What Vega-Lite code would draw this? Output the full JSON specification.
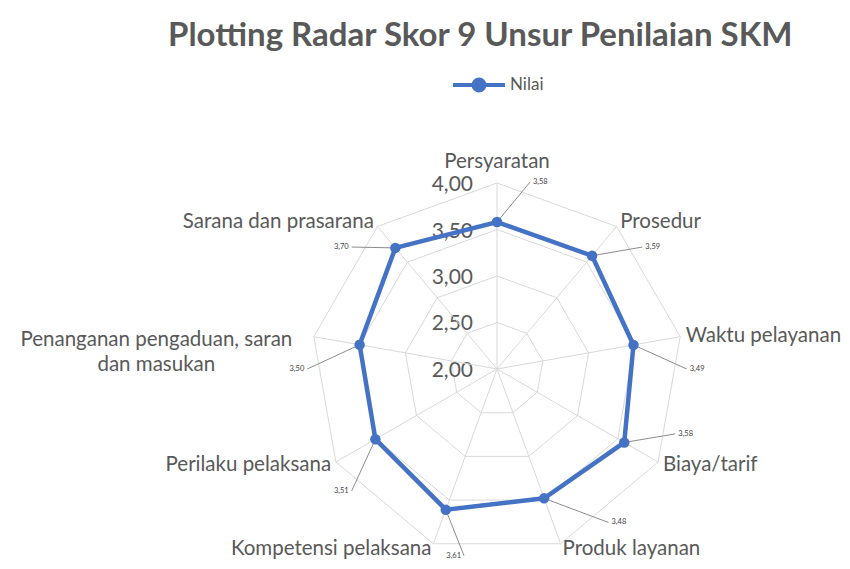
{
  "$schema": "https://vega.github.io/schema/vega-lite/v6.json",
  "width": 850,
  "height": 569,
  "autosize": {"type": "none"},
  "padding": 0,
  "background": "white",
  "config": {
    "view": {"stroke": null},
    "font": "Lato",
    "locale": {"number": {"decimal": ",", "thousands": ".", "grouping": [3], "currency": ["", ""]}}
  },
  "title": {
    "text": "Plotting Radar Skor 9 Unsur Penilaian SKM",
    "font": "Lato",
    "fontSize": 33,
    "fontWeight": "bold",
    "color": "#595959",
    "anchor": "start",
    "frame": "group",
    "offset": 0,
    "baseline": "middle",
    "dx": 168,
    "dy": 69
  },
  "datasets": {
    "skor": [
      {"unsur": "Persyaratan", "k": 0, "nilai": 3.58, "seri": "Nilai"},
      {"unsur": "Prosedur", "k": 1, "nilai": 3.59, "seri": "Nilai"},
      {"unsur": "Waktu pelayanan", "k": 2, "nilai": 3.49, "seri": "Nilai"},
      {"unsur": "Biaya/tarif", "k": 3, "nilai": 3.58, "seri": "Nilai"},
      {"unsur": "Produk layanan", "k": 4, "nilai": 3.48, "seri": "Nilai"},
      {"unsur": "Kompetensi pelaksana", "k": 5, "nilai": 3.61, "seri": "Nilai"},
      {"unsur": "Perilaku pelaksana", "k": 6, "nilai": 3.51, "seri": "Nilai"},
      {"unsur": "Penanganan pengaduan, saran dan masukan", "k": 7, "nilai": 3.50, "seri": "Nilai"},
      {"unsur": "Sarana dan prasarana", "k": 8, "nilai": 3.70, "seri": "Nilai"}
    ],
    "cincin": [
      {"level": 2.5, "k": 0}, {"level": 2.5, "k": 1}, {"level": 2.5, "k": 2}, {"level": 2.5, "k": 3}, {"level": 2.5, "k": 4}, {"level": 2.5, "k": 5}, {"level": 2.5, "k": 6}, {"level": 2.5, "k": 7}, {"level": 2.5, "k": 8},
      {"level": 3.0, "k": 0}, {"level": 3.0, "k": 1}, {"level": 3.0, "k": 2}, {"level": 3.0, "k": 3}, {"level": 3.0, "k": 4}, {"level": 3.0, "k": 5}, {"level": 3.0, "k": 6}, {"level": 3.0, "k": 7}, {"level": 3.0, "k": 8},
      {"level": 3.5, "k": 0}, {"level": 3.5, "k": 1}, {"level": 3.5, "k": 2}, {"level": 3.5, "k": 3}, {"level": 3.5, "k": 4}, {"level": 3.5, "k": 5}, {"level": 3.5, "k": 6}, {"level": 3.5, "k": 7}, {"level": 3.5, "k": 8},
      {"level": 4.0, "k": 0}, {"level": 4.0, "k": 1}, {"level": 4.0, "k": 2}, {"level": 4.0, "k": 3}, {"level": 4.0, "k": 4}, {"level": 4.0, "k": 5}, {"level": 4.0, "k": 6}, {"level": 4.0, "k": 7}, {"level": 4.0, "k": 8}
    ],
    "sumbu": [
      {"level": 2.0}, {"level": 2.5}, {"level": 3.0}, {"level": 3.5}, {"level": 4.0}
    ]
  },
  "layer": [
    {
      "data": {"name": "cincin"},
      "transform": [
        {"calculate": "datum.k*2*PI/9", "as": "ang"},
        {"calculate": "(datum.level-2)/2*sin(datum.ang)", "as": "gx"},
        {"calculate": "(datum.level-2)/2*cos(datum.ang)", "as": "gy"}
      ],
      "mark": {"type": "line", "interpolate": "linear-closed", "stroke": "#D9D9D9", "strokeWidth": 1},
      "encoding": {
        "x": {"field": "gx", "type": "quantitative", "scale": {"domain": [-2.672, 1.8978], "nice": false, "zero": false}, "axis": null},
        "y": {"field": "gy", "type": "quantitative", "scale": {"domain": [-1.0753, 1.9839], "nice": false, "zero": false}, "axis": null},
        "detail": {"field": "level", "type": "nominal"},
        "order": {"field": "k", "type": "quantitative"}
      }
    },
    {
      "data": {"name": "sumbu"},
      "transform": [
        {"calculate": "(datum.level-2)/2", "as": "ry"},
        {"calculate": "0", "as": "o"}
      ],
      "mark": {"type": "text", "align": "right", "baseline": "middle", "dx": -24, "dy": 2, "fontSize": 21, "fill": "#595959", "font": "Lato"},
      "encoding": {
        "x": {"field": "o", "type": "quantitative"},
        "y": {"field": "ry", "type": "quantitative"},
        "text": {"field": "level", "type": "quantitative", "format": ".2f"}
      }
    },
    {
      "data": {"name": "skor"},
      "transform": [
        {"calculate": "datum.k*2*PI/9", "as": "ang"},
        {"calculate": "0", "as": "o"},
        {"calculate": "(datum.nilai-2)/2", "as": "r"},
        {"calculate": "datum.r*sin(datum.ang)", "as": "px"},
        {"calculate": "datum.r*cos(datum.ang)", "as": "py"},
        {"calculate": "sin(datum.ang)", "as": "vx"},
        {"calculate": "cos(datum.ang)", "as": "vy"},
        {"calculate": "1.03*sin(datum.ang)", "as": "lx"},
        {"calculate": "1.03*cos(datum.ang)", "as": "ly"},
        {"calculate": "datum.ang + (datum.k <= 2 ? 10 : (datum.k == 4 ? -16 : -10))*PI/180", "as": "dla"},
        {"calculate": "1.02*sin(datum.dla)", "as": "dlx"},
        {"calculate": "1.02*cos(datum.dla)", "as": "dly"},
        {"calculate": "replace(datum.unsur, 'saran dan', 'saran\\ndan')", "as": "lbl"}
      ],
      "layer": [
        {
          "mark": {"type": "rule", "stroke": "#D9D9D9", "strokeWidth": 1},
          "encoding": {
            "x": {"field": "o", "type": "quantitative"},
            "y": {"field": "o", "type": "quantitative"},
            "x2": {"field": "vx"},
            "y2": {"field": "vy"}
          }
        },
        {
          "mark": {"type": "rule", "stroke": "#8C8C8C", "strokeWidth": 1},
          "encoding": {
            "x": {"field": "px", "type": "quantitative"},
            "y": {"field": "py", "type": "quantitative"},
            "x2": {"field": "dlx"},
            "y2": {"field": "dly"}
          }
        },
        {
          "mark": {"type": "line", "interpolate": "linear-closed", "strokeWidth": 4.5},
          "encoding": {
            "x": {"field": "px", "type": "quantitative"},
            "y": {"field": "py", "type": "quantitative"},
            "order": {"field": "k", "type": "quantitative"},
            "color": {
              "field": "seri",
              "type": "nominal",
              "scale": {"range": ["#4472C4"]},
              "legend": {
                "orient": "none",
                "legendX": 451,
                "legendY": 57,
                "title": null,
                "symbolType": "M-1,0L1,0M0.21,0A0.21,0.21,0,1,1,-0.21,0A0.21,0.21,0,1,1,0.21,0Z",
                "symbolSize": 2704,
                "symbolStrokeWidth": 4,
                "symbolFillColor": "#4472C4",
                "symbolStrokeColor": "#4472C4",
                "labelFont": "Lato",
                "labelFontSize": 17,
                "labelColor": "#595959",
                "labelOffset": 3,
                "padding": 0
              }
            }
          }
        },
        {
          "mark": {"type": "point", "shape": "circle", "filled": true, "size": 110, "color": "#4472C4", "opacity": 1},
          "encoding": {
            "x": {"field": "px", "type": "quantitative"},
            "y": {"field": "py", "type": "quantitative"}
          }
        },
        {
          "transform": [{"filter": "datum.k <= 4"}],
          "mark": {"type": "text", "align": "left", "baseline": "middle", "dx": 3, "fontSize": 7.5, "fill": "#404040", "font": "Lato"},
          "encoding": {
            "x": {"field": "dlx", "type": "quantitative"},
            "y": {"field": "dly", "type": "quantitative"},
            "text": {"field": "nilai", "type": "quantitative", "format": ".2f"}
          }
        },
        {
          "transform": [{"filter": "datum.k > 4"}],
          "mark": {"type": "text", "align": "right", "baseline": "middle", "dx": -3, "fontSize": 7.5, "fill": "#404040", "font": "Lato"},
          "encoding": {
            "x": {"field": "dlx", "type": "quantitative"},
            "y": {"field": "dly", "type": "quantitative"},
            "text": {"field": "nilai", "type": "quantitative", "format": ".2f"}
          }
        },
        {
          "transform": [{"filter": "datum.k == 0"}],
          "mark": {"type": "text", "align": "center", "baseline": "middle", "dy": -15, "fontSize": 20.5, "fill": "#595959", "font": "Lato"},
          "encoding": {
            "x": {"field": "lx", "type": "quantitative"},
            "y": {"field": "ly", "type": "quantitative"},
            "text": {"field": "lbl"}
          }
        },
        {
          "transform": [{"filter": "datum.k >= 1 && datum.k <= 4"}],
          "mark": {"type": "text", "align": "left", "baseline": "middle", "fontSize": 20.5, "fill": "#595959", "font": "Lato"},
          "encoding": {
            "x": {"field": "lx", "type": "quantitative"},
            "y": {"field": "ly", "type": "quantitative"},
            "text": {"field": "lbl"}
          }
        },
        {
          "transform": [{"filter": "datum.k == 5 || datum.k == 6 || datum.k == 8"}],
          "mark": {"type": "text", "align": "right", "baseline": "middle", "fontSize": 20.5, "fill": "#595959", "font": "Lato"},
          "encoding": {
            "x": {"field": "lx", "type": "quantitative"},
            "y": {"field": "ly", "type": "quantitative"},
            "text": {"field": "lbl"}
          }
        },
        {
          "transform": [{"filter": "datum.k == 7"}],
          "mark": {"type": "text", "align": "center", "baseline": "middle", "dx": -152, "dy": 4, "lineBreak": "\n", "lineHeight": 25, "fontSize": 20.5, "fill": "#595959", "font": "Lato"},
          "encoding": {
            "x": {"field": "lx", "type": "quantitative"},
            "y": {"field": "ly", "type": "quantitative"},
            "text": {"field": "lbl"}
          }
        }
      ]
    }
  ]
}
